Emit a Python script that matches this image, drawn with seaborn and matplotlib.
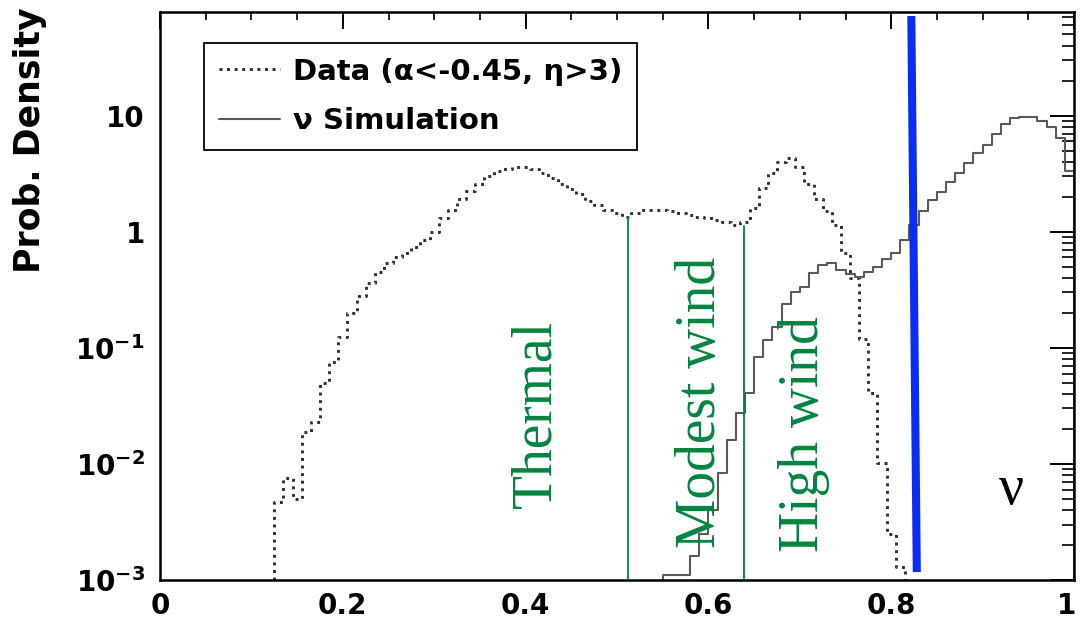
import numpy as np
import pandas as pd
import matplotlib
matplotlib.use("Agg")
import matplotlib.pyplot as plt
import matplotlib.transforms as mtransforms
import seaborn as sns
from matplotlib.ticker import FixedLocator, MultipleLocator, LogLocator, NullFormatter

# ---- histogram contents (probability density per 0.01-wide bin) ----
bin_width = 0.01

# Data (alpha < -0.45, eta > 3): first bin starts at 0.125
data_first_edge = 0.125
data_density = [
    0.0047, 0.0076, 0.0050, 0.019, 0.023, 0.050, 0.075, 0.125, 0.20, 0.28,
    0.36, 0.45, 0.54, 0.60, 0.66, 0.74, 0.85, 1.0, 1.3, 1.55,
    1.9, 2.25, 2.6, 3.0, 3.3, 3.5, 3.6, 3.6, 3.5, 3.2,
    2.9, 2.6, 2.35, 2.1, 1.85, 1.7, 1.55, 1.45, 1.35, 1.45,
    1.55, 1.55, 1.55, 1.5, 1.45, 1.4, 1.35, 1.3, 1.25, 1.2,
    1.14, 1.2, 1.6, 2.4, 3.2, 4.0, 4.3, 3.6, 2.6, 1.9,
    1.5, 1.15, 0.65, 0.40, 0.12, 0.041, 0.0102, 0.0025, 0.0013,
]

# Neutrino simulation: first bin starts at 0.55
sim_first_edge = 0.55
sim_density = [
    0.0011, 0.0011, 0.0011, 0.0016, 0.0025, 0.004, 0.0083, 0.016, 0.0275, 0.041,
    0.084, 0.117, 0.152, 0.24, 0.30, 0.335, 0.44, 0.52, 0.54, 0.47,
    0.43, 0.41, 0.45, 0.50, 0.58, 0.66, 0.85, 1.15, 1.5, 1.89,
    2.2, 2.7, 3.2, 3.9, 4.8, 5.6, 6.9, 8.4, 9.6, 9.8,
    9.8, 8.9, 8.0, 6.4, 3.3,
]

# Region boundaries (green lines) and the density where each one starts
region_edges = [0.512, 0.639]
region_tops = [1.35, 1.13]
region_names = ["Thermal", "Modest wind", "High wind"]
region_label_x = [0.412, 0.592, 0.705]
region_label_y = [0.027, 0.034, 0.018]

# Neutrino selection cut (blue line) and its label
nu_cut_x = [0.822, 0.828]
nu_cut_y = [72.0, 1.17e-3]
nu_label_xy = (0.932, 0.006)

# Axis scales and tick labels
x_range = (0.0, 1.0)
y_range = (1e-3, 78.0)
xtick_values = [0.0, 0.2, 0.4, 0.6, 0.8, 1.0]
xtick_labels = ["0", "0.2", "0.4", "0.6", "0.8", "1"]
ytick_values = [1e-3, 1e-2, 1e-1, 1.0, 10.0]
ytick_labels = ["10$^{-3}$", "10$^{-2}$", "10$^{-1}$", "1", "10"]

legend_labels = ["Data (α<-0.45, η>3)", "ν Simulation"]
y_title = "Prob. Density"


def step_outline(first_edge, values, floor):
    """Closed step outline of a histogram, dropping to the floor at both ends."""
    n = len(values)
    edges = first_edge + bin_width * np.arange(n + 1)
    xs = np.concatenate([[edges[0]], edges, [edges[-1]]])
    ys = np.concatenate([[floor], values, [values[-1]], [floor]])
    return pd.DataFrame({"x": xs, "y": ys, "order": np.arange(len(xs))})


sns.set_theme(style="white")
plt.rcParams["font.family"] = ["DejaVu Sans"]
plt.rcParams["text.color"] = "black"
plt.rcParams["axes.labelcolor"] = "black"
plt.rcParams["mathtext.fontset"] = "custom"
plt.rcParams["mathtext.rm"] = "DejaVu Sans:bold"
plt.rcParams["mathtext.bf"] = "DejaVu Sans:bold"
plt.rcParams["mathtext.it"] = "DejaVu Sans:bold:italic"
plt.rcParams["mathtext.default"] = "rm"

fig = plt.figure(figsize=(10.8, 6.24), dpi=100)
fig.patch.set_facecolor("white")
ax = fig.add_axes([160 / 1080, 1 - 580 / 624, 914 / 1080, 568 / 624])
ax.set_facecolor("white")

floor = y_range[0]
data_df = step_outline(data_first_edge, data_density, floor)
sim_df = step_outline(sim_first_edge, sim_density, floor)

sns.lineplot(data=data_df, x="x", y="y", ax=ax, sort=False, estimator=None,
             drawstyle="steps-post", color="#2e2e2e", linewidth=2.1,
             linestyle=(0, (1, 1.6)), label=legend_labels[0])
sns.lineplot(data=sim_df, x="x", y="y", ax=ax, sort=False, estimator=None,
             drawstyle="steps-post", color="#5a5a5a", linewidth=1.5,
             label=legend_labels[1])

ax.set_yscale("log")
ax.set_xlim(*x_range)
ax.set_ylim(*y_range)

# region boundaries and labels
green = "#00843f"
for xe, top in zip(region_edges, region_tops):
    ax.plot([xe, xe], [top, floor], color=green, linewidth=1.3, zorder=3)
for name, lx, ly in zip(region_names, region_label_x, region_label_y):
    ax.text(lx, ly, name, rotation=90, ha="center", va="center",
            color=green, fontsize=40, family=["Liberation Serif", "DejaVu Serif"])

# neutrino cut
ax.plot(nu_cut_x, nu_cut_y, color="#0a2cf5", linewidth=5.8,
        solid_capstyle="butt", zorder=4)
ax.text(*nu_label_xy, "ν", ha="center", va="center", color="black",
        fontsize=40, family=["Liberation Serif", "DejaVu Serif"])

# ticks: inside, on all four sides
ax.xaxis.set_major_locator(FixedLocator(xtick_values))
ax.set_xticklabels(xtick_labels)
ax.xaxis.set_minor_locator(MultipleLocator(0.05))
ax.yaxis.set_major_locator(FixedLocator(ytick_values))
ax.set_yticklabels(ytick_labels)
ax.yaxis.set_minor_locator(LogLocator(base=10, subs=np.arange(2, 10)))
ax.yaxis.set_minor_formatter(NullFormatter())

ax.tick_params(axis="both", which="both", direction="in", top=True, right=True,
               color="black", labelcolor="black")
ax.tick_params(axis="x", which="major", length=12, width=1.4, pad=9, labelsize=20)
ax.tick_params(axis="x", which="minor", length=6, width=1.2)
ax.tick_params(axis="y", which="major", length=17, width=1.4, pad=11, labelsize=20)
ax.tick_params(axis="y", which="minor", length=9, width=1.2)
for lab in ax.get_xticklabels() + ax.get_yticklabels():
    lab.set_fontweight("bold")

# keep the last x label inside the canvas
last = ax.get_xticklabels()[-1]
last.set_transform(last.get_transform()
                   + mtransforms.ScaledTranslation(-7 / 100, 0, fig.dpi_scale_trans))

for spine in ax.spines.values():
    spine.set_visible(True)
    spine.set_color("black")
    spine.set_linewidth(1.8)

ax.set_xlabel("")
ax.set_ylabel("")
fig.text(30 / 1080, 1 - 140 / 624, y_title, rotation=90, ha="center",
         va="center", fontsize=25, fontweight="bold", color="black")

leg = ax.legend(loc="upper left", bbox_to_anchor=(204 / 1080, 1 - 43 / 624),
                bbox_transform=fig.transFigure, borderaxespad=0,
                frameon=True, fancybox=False, framealpha=1, edgecolor="black",
                prop={"weight": "bold", "size": 21}, handlelength=2.1,
                handletextpad=0.45, labelspacing=0.75, borderpad=0.5)
leg.get_frame().set_linewidth(1.3)
for t in leg.get_texts():
    t.set_color("black")

fig.savefig("out.png", dpi=100, facecolor="white")
